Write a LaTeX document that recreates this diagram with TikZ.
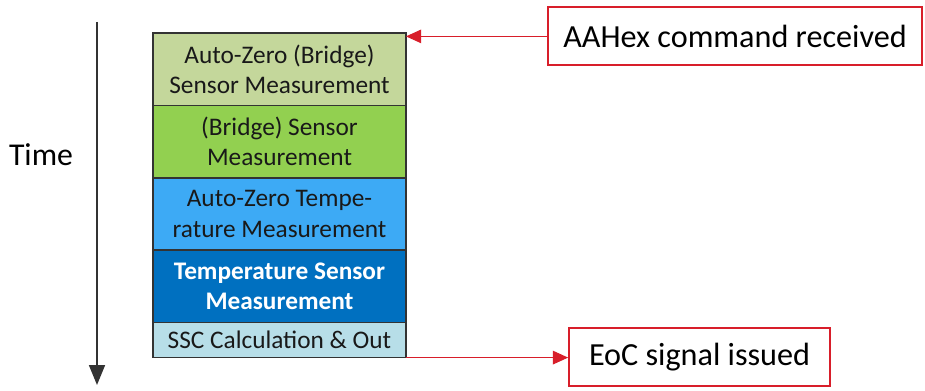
\documentclass[tikz,border=0pt]{standalone}
\usepackage{fontspec}
\setmainfont{Carlito}
\usepackage{xcolor}
\usetikzlibrary{arrows.meta, positioning}
\definecolor{azbfill}{HTML}{C4D79B}
\definecolor{bsfill}{HTML}{92D050}
\definecolor{aztfill}{HTML}{3DAAF5}
\definecolor{tsfill}{HTML}{0070C0}
\definecolor{sscfill}{HTML}{B7DEE8}
\definecolor{eventred}{HTML}{D81E2A}
\tikzstyle{phase} = [rectangle, minimum width=6.325cm, minimum height=1.81cm, align=center, text centered, draw=black!80, line width=1pt, outer sep=0pt, inner sep=0pt, font=\fontsize{18}{21.5}\selectfont, text=black!90]
\tikzstyle{event} = [rectangle, minimum height=1.45cm, text centered, draw=eventred, line width=1.4pt, font=\fontsize{22.9}{27}\selectfont]
\tikzstyle{arrow} = [eventred, line width=0.7pt, -{Triangle[length=0.38cm, width=0.34cm]}]

\begin{document}
\begin{tikzpicture}
      \useasboundingbox (0,0) rectangle (23.125,9.75);

      % Time axis
      \coordinate (tstart) at (2.425,9.2);
      \coordinate (tend) at (2.425,0.125);
      \node (time) at (1.025,5.875) {\fontsize{22.6}{27}\selectfont Time};
      \draw [black!80, line width=1.2pt, -{Triangle[length=0.5cm, width=0.4cm]}] (tstart) -- (tend);

      % Measurement phases
      \node (azb) [phase, fill=azbfill, anchor=north west] at (3.825,8.925) {Auto-Zero (Bridge)\\Sensor Measurement};
      \node (bs) [phase, fill=bsfill, below=0pt of azb] {(Bridge) Sensor\\Measurement};
      \node (azt) [phase, fill=aztfill, below=0pt of bs] {Auto-Zero Tempe-\\rature Measurement};
      \node (ts) [phase, fill=tsfill, text=white, font=\fontsize{18}{21.5}\selectfont\bfseries, below=0pt of azt] {Temperature Sensor\\Measurement};
      \node (ssc) [phase, fill=sscfill, minimum height=0.875cm, below=0pt of ts] {SSC Calculation \& Out};

      % Events
      \node (aahex) [event, minimum width=9.35cm] at (18.375,8.84) {AAHex command received};
      \node (eoc) [event, minimum width=6.525cm] at (17.49,0.83) {EoC signal issued};

      % Arrows
      \draw [arrow] (aahex.west) -- (aahex.west -| azb.east);
      \draw [arrow] (ssc.south east) -- (ssc.south east -| eoc.west);

\end{tikzpicture}
\end{document}
